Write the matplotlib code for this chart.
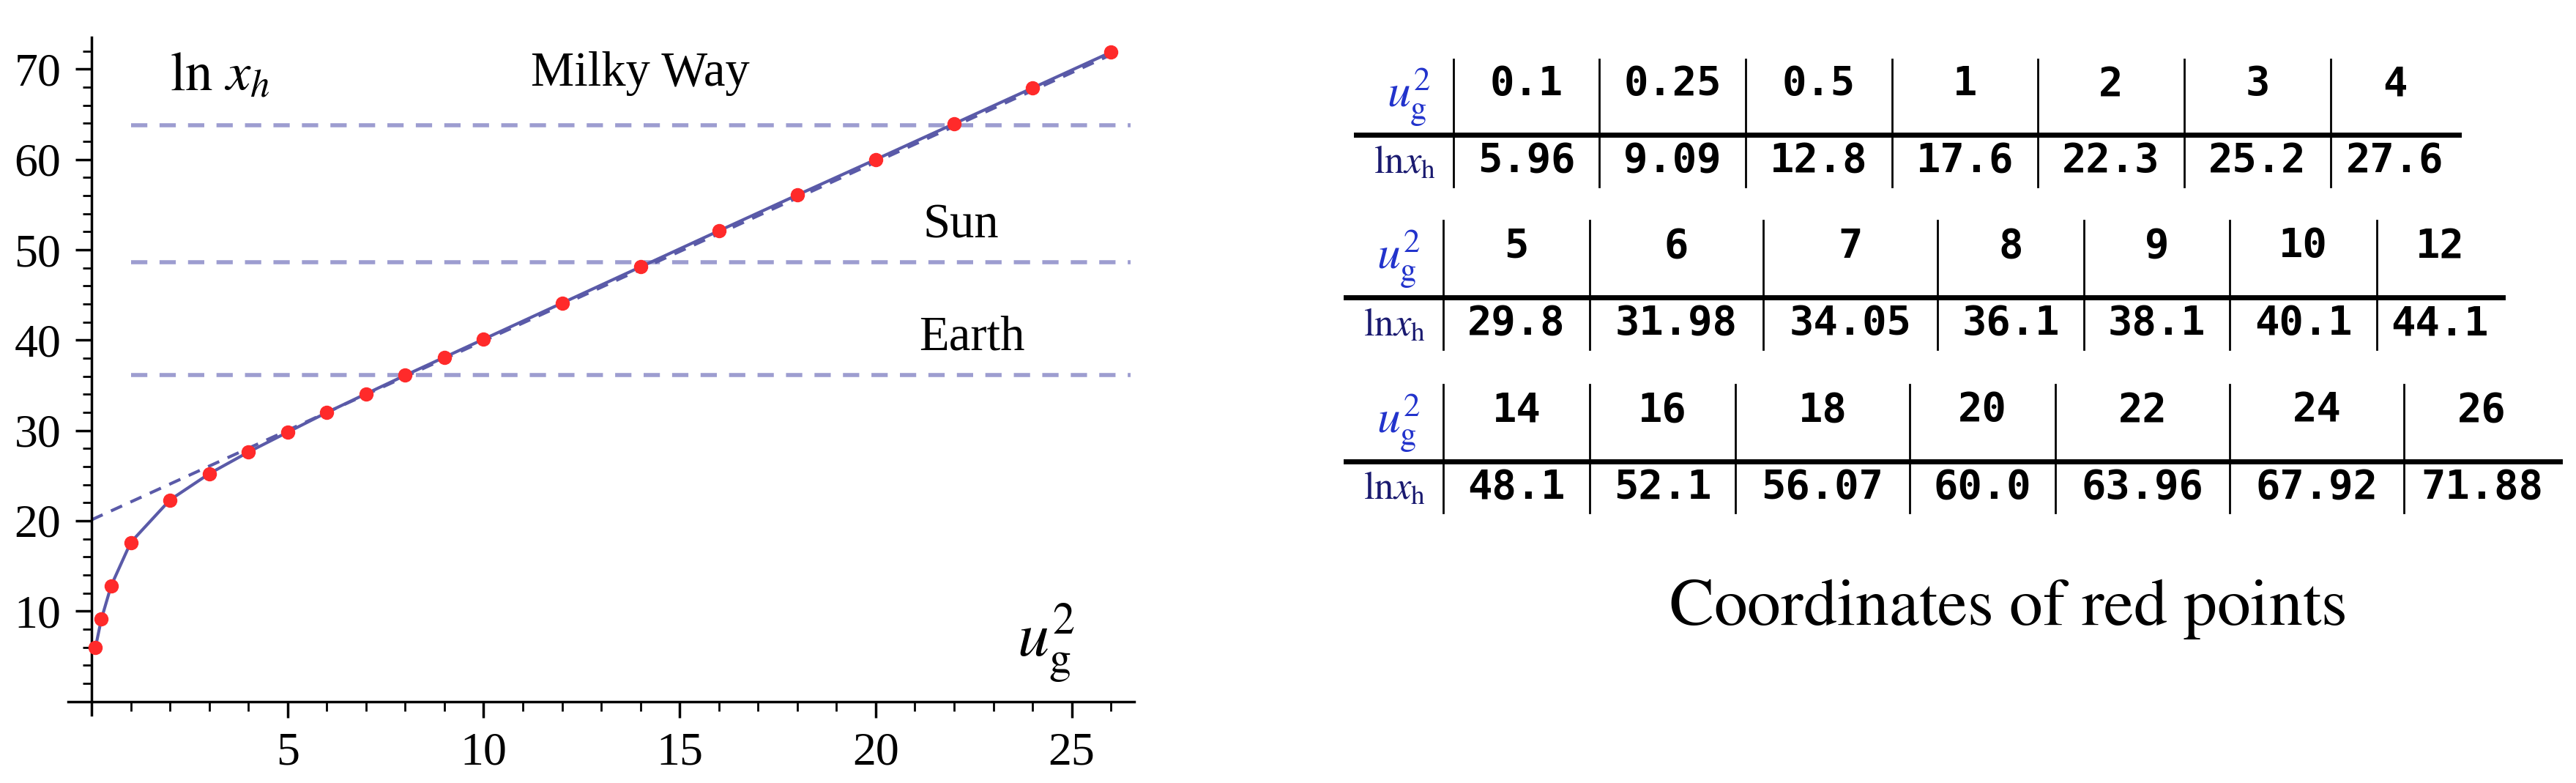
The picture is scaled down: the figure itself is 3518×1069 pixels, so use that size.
import matplotlib.pyplot as plt
from matplotlib.ticker import MultipleLocator

# data
u2 = [0.1, 0.25, 0.5, 1, 2, 3, 4, 5, 6, 7, 8, 9, 10, 12, 14, 16, 18, 20, 22, 24, 26]
lnx = [5.96, 9.09, 12.8, 17.6, 22.3, 25.2, 27.6, 29.8, 31.98, 34.05, 36.1, 38.1,
       40.1, 44.1, 48.1, 52.1, 56.07, 60.0, 63.96, 67.92, 71.88]
u2_labels = ["0.1", "0.25", "0.5", "1", "2", "3", "4", "5", "6", "7", "8", "9", "10",
             "12", "14", "16", "18", "20", "22", "24", "26"]
lnx_labels = ["5.96", "9.09", "12.8", "17.6", "22.3", "25.2", "27.6", "29.8", "31.98",
              "34.05", "36.1", "38.1", "40.1", "44.1", "48.1", "52.1", "56.07", "60.0",
              "63.96", "67.92", "71.88"]
asym_x = [0, 26]
asym_y = [20.1, 71.6]
levels = [63.8, 48.6, 36.1]
level_names = ["Milky Way", "Sun", "Earth"]
level_label_x = [11.2, 21.2, 21.1]
level_label_dy = [5.7, 4.1, 4.2]

plt.rcParams["mathtext.fontset"] = "stix"
serif = ["Liberation Serif", "DejaVu Serif"]

fig = plt.figure(figsize=(35.18, 10.69), dpi=100)

ax = fig.add_axes([0.0264, 0.087, 0.414, 0.865])
ax.set_xlim(-0.6, 26.6)
ax.set_ylim(-1.5, 73.5)
for s in ["top", "right"]:
    ax.spines[s].set_visible(False)
ax.spines["left"].set_position(("data", 0))
ax.spines["bottom"].set_position(("data", 0))
ax.spines["left"].set_linewidth(2.5)
ax.spines["bottom"].set_linewidth(2.5)
ax.set_xticks([5, 10, 15, 20, 25])
ax.set_yticks([10, 20, 30, 40, 50, 60, 70])
ax.xaxis.set_minor_locator(MultipleLocator(1))
ax.yaxis.set_minor_locator(MultipleLocator(2))
ax.tick_params(which="major", length=16, width=2.5, labelsize=46, pad=14,
               labelfontfamily="Liberation Serif")
ax.tick_params(which="minor", length=9, width=2)

for lv, name, lx, dy in zip(levels, level_names, level_label_x, level_label_dy):
    ax.plot([1, 26.5], [lv, lv], ls=(0, (4, 3)), color="#9d9dd0", lw=4)
    ax.text(lx, lv + dy, name, fontsize=48, family=serif, va="center", ha="left")

ax.plot(asym_x, asym_y, ls=(0, (4, 3)), color="#5a5aa8", lw=3)
ax.plot(u2, lnx, color="#5a5aa8", lw=3)
ax.plot(u2, lnx, "o", color="#ff2a2a", ms=13, zorder=5)
ax.text(2.0, 69.3, r"$\mathrm{ln}\ x_h$", fontsize=54, va="center")
ax.text(23.6, 6.5, r"$u_{\mathrm{g}}^{2}$", fontsize=62, va="center")

# tables, drawn in pixel coordinates of the figure
tx = fig.add_axes([0, 0, 1, 1])
tx.set_xlim(0, 3518)
tx.set_ylim(1069, 0)
tx.axis("off")

tables = [
    dict(cols=[1985, 2184, 2384, 2584, 2783, 2983, 3183], end=3358, start=1852,
         top=81, mid=184, bot=255, idx=range(0, 7)),
    dict(cols=[1971, 2171, 2408, 2646, 2846, 3045, 3246], end=3418, start=1838,
         top=301, mid=406, bot=477, idx=range(7, 14)),
    dict(cols=[1971, 2171, 2370, 2608, 2807, 3045, 3283], end=3496, start=1838,
         top=525, mid=630, bot=700, idx=range(14, 21)),
]
for t in tables:
    edges = t["cols"] + [t["end"]]
    for c in t["cols"]:
        tx.plot([c, c], [t["top"], t["bot"]], color="black", lw=2)
    tx.plot([t["start"], t["end"]], [t["mid"], t["mid"]], color="black", lw=5)
    r1 = t["top"] + 0.33 * (t["mid"] - t["top"])
    r2 = (t["mid"] + t["bot"]) / 2
    tx.text((t["start"] + t["cols"][0]) / 2 + 5, (t["top"] + t["mid"]) / 2,
            r"$u_{\mathrm{g}}^{2}$", color="#2233cc", fontsize=46, ha="center", va="center")
    tx.text((t["start"] + t["cols"][0]) / 2, r2 + 2, r"$\mathrm{ln}x_{\mathrm{h}}$",
            color="#1a1a70", fontsize=38, ha="center", va="center")
    for k, i in enumerate(t["idx"]):
        xc = (edges[k] + edges[k + 1]) / 2
        tx.text(xc, r1, u2_labels[i], family="DejaVu Sans Mono", weight="bold",
                fontsize=40, ha="center", va="center")
        tx.text(xc, r2, lnx_labels[i], family="DejaVu Sans Mono", weight="bold",
                fontsize=40, ha="center", va="center")

tx.text(2741, 830, r"$\mathrm{Coordinates\ of\ red\ points}$", fontsize=66,
        ha="center", va="center")

fig.savefig("out.png", dpi=100)
